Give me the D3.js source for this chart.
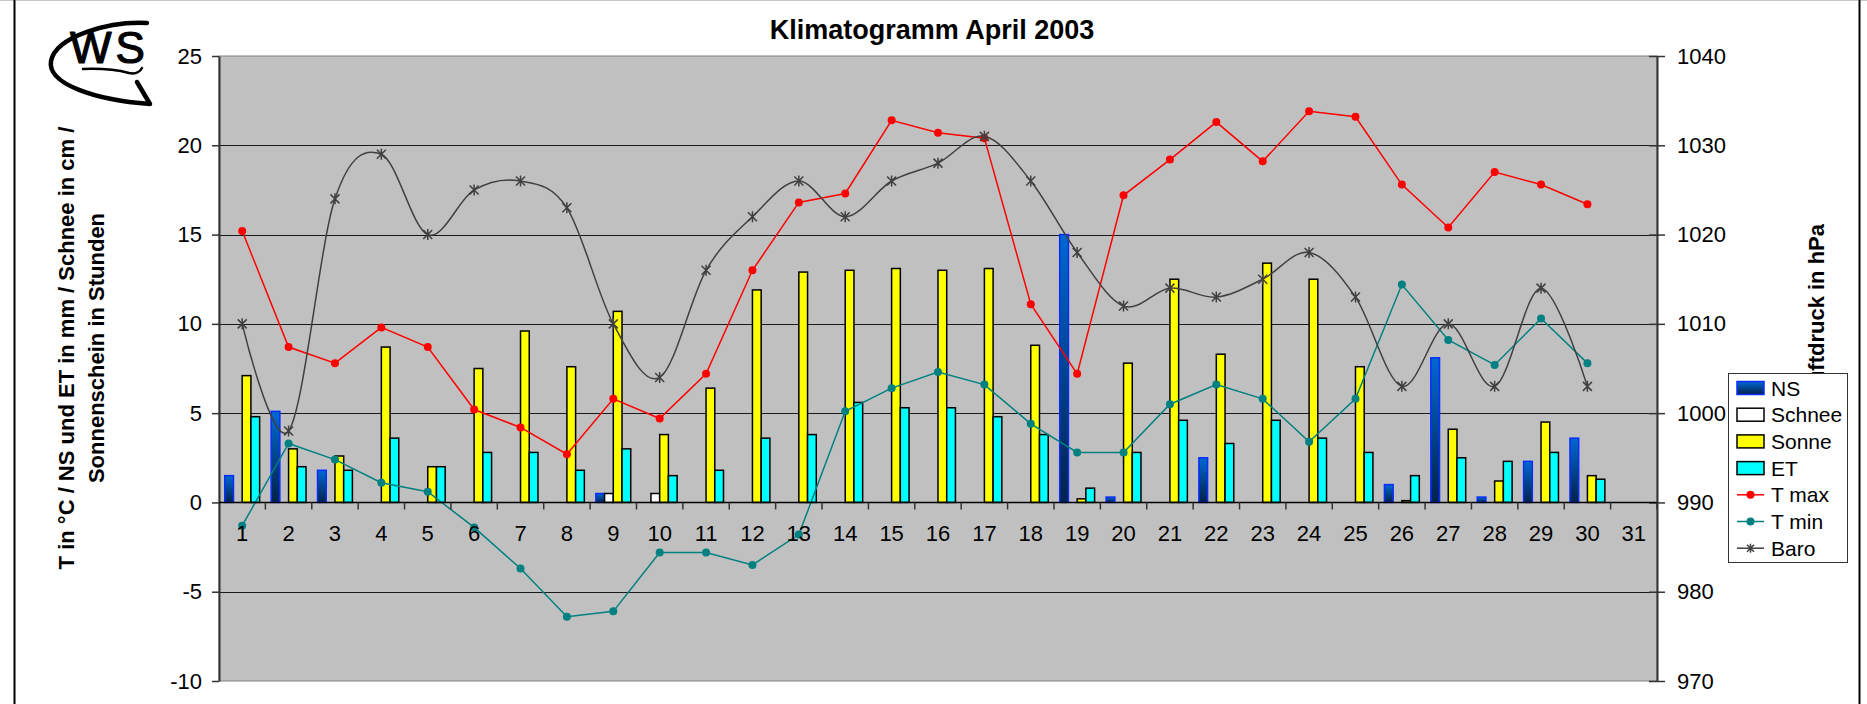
<!DOCTYPE html>
<html>
<head>
<meta charset="utf-8">
<title>Klimatogramm April 2003</title>
<script src="https://cdnjs.cloudflare.com/ajax/libs/d3/7.8.5/d3.min.js"></script>
<style>
	body { margin:0; background:#fff; }
	svg text { font-family:"Liberation Sans", Arial, sans-serif; fill:#000; }
	.tick text { font-size:22px; }
	.axis-title { font-size:22px; font-weight:bold; }
	.title { font-size:27px; font-weight:bold; }
	.legend text { font-size:21px; }
</style>
</head>
<body>
<svg id="chart" width="1867" height="704"></svg>
<script>
// categories (days of April, the axis runs to 31)
var days = [1, 2, 3, 4, 5, 6, 7, 8, 9, 10, 11, 12, 13, 14, 15, 16,
	17, 18, 19, 20, 21, 22, 23, 24, 25, 26, 27, 28, 29, 30, 31];

var barSeries = ["NS", "Schnee", "Sonne", "ET"];
var lineSeries = ["T max", "T min", "Baro"];

// Niederschlag in mm
var ns = [1.5, 5.1, 1.8, 0, 0, 0, 0, 0, 0.5, 0, 0, 0, 0, 0, 0,
	0, 0, 0, 15.0, 0.3, 0, 2.5, 0, 0, 0, 1.0, 8.1, 0.3, 2.3, 3.6];
// Schnee in cm
var schnee = [0, 0, 0, 0, 0, 0, 0, 0, 0.5, 0.5, 0, 0, 0, 0, 0,
	0, 0, 0, 0, 0, 0, 0, 0, 0, 0, 0, 0, 0, 0, 0];
// Sonnenschein in Stunden
var sonne = [7.1, 3.0, 2.6, 8.7, 2.0, 7.5, 9.6, 7.6, 10.7, 3.8, 6.4, 11.9, 12.9, 13.0, 13.1,
	13.0, 13.1, 8.8, 0.2, 7.8, 12.5, 8.3, 13.4, 12.5, 7.6, 0.1, 4.1, 1.2, 4.5, 1.5];
// Evapotranspiration in mm
var et = [4.8, 2.0, 1.8, 3.6, 2.0, 2.8, 2.8, 1.8, 3.0, 1.5, 1.8, 3.6, 3.8, 5.6, 5.3,
	5.3, 4.8, 3.8, 0.8, 2.8, 4.6, 3.3, 4.6, 3.6, 2.8, 1.5, 2.5, 2.3, 2.8, 1.3];

var tmax = [15.2, 8.7, 7.8, 9.8, 8.7, 5.2, 4.2, 2.7, 5.8, 4.7, 7.2, 13.0, 16.8, 17.3, 21.4,
	20.7, 20.4, 11.1, 7.2, 17.2, 19.2, 21.3, 19.1, 21.9, 21.6, 17.8, 15.4, 18.5, 17.8, 16.7];
var tmin = [-1.3, 3.3, 2.4, 1.1, 0.6, -1.4, -3.7, -6.4, -6.1, -2.8, -2.8, -3.5, -1.8, 5.1, 6.4,
	7.3, 6.6, 4.4, 2.8, 2.8, 5.5, 6.6, 5.8, 3.4, 5.8, 12.2, 9.1, 7.7, 10.3, 7.8];
// Luftdruck in hPa
var baro = [1010, 998, 1024, 1029, 1020, 1025, 1026, 1023, 1010, 1004, 1016, 1022, 1026, 1022, 1026,
	1028, 1031, 1026, 1018, 1012, 1014, 1013, 1015, 1018, 1013, 1003, 1010, 1003, 1014, 1003];

var leftTicks = [25, 20, 15, 10, 5, 0, -5, -10];
var rightTicks = [1040, 1030, 1020, 1010, 1000, 990, 980, 970];

var chart = {
	plot : { left : 219, right : 1657, top : 56, bottom : 681 },

	fills : {
		"NS" : "url(#nsGradient)",
		"Schnee" : "#ffffff",
		"Sonne" : "#ffff00",
		"ET" : "#00ffff"
	},

	lineColors : {
		"T max" : "#ff0000",
		"T min" : "#008080",
		"Baro" : "#404040"
	},

	init : function ()
	{
		this.svg = d3.select("svg#chart");
		var p = this.plot;

		this.x = d3.scaleBand()
		.domain(days)
		.range([p.left, p.right]);

		this.xInner = d3.scaleBand()
		.domain(barSeries)
		.range([0, this.x.bandwidth()])
		.paddingOuter(0.66);

		this.y = d3.scaleLinear()
		.domain([d3.min(leftTicks), d3.max(leftTicks)])
		.range([p.bottom, p.top]);

		this.yR = d3.scaleLinear()
		.domain([d3.min(rightTicks), d3.max(rightTicks)])
		.range([p.bottom, p.top]);

		this.renderDefs();
		this.renderFrame();
		this.renderLogo();
		this.renderPlotArea();
		this.renderBars();
		this.renderLines();
		this.renderAxes();
		this.renderTitles();
		this.renderLegend();
	},

	renderDefs : function ()
	{
		var grad = this.svg.append("defs")
		.append("linearGradient")
		.attr("id", "nsGradient")
		.attr("x1", 0).attr("y1", 0)
		.attr("x2", 0).attr("y2", 1);

		grad.append("stop").attr("offset", "0%").attr("stop-color", "#0068d2");
		grad.append("stop").attr("offset", "100%").attr("stop-color", "#00224a");
	},

	renderFrame : function ()
	{
		var frame = this.svg.append("g").classed("frame", true);

		frame.append("line")
		.attr("x1", 0).attr("x2", 1867)
		.attr("y1", 0.5).attr("y2", 0.5)
		.attr("stroke", "#c8c8c8");

		frame.append("line")
		.attr("x1", 14.5).attr("x2", 14.5)
		.attr("y1", 0).attr("y2", 704)
		.attr("stroke", "#000").attr("stroke-width", 2);

		frame.append("line")
		.attr("x1", 1859.5).attr("x2", 1859.5)
		.attr("y1", 0).attr("y2", 704)
		.attr("stroke", "#000").attr("stroke-width", 2);
	},

	renderLogo : function ()
	{
		var logo = this.svg.append("g")
		.classed("logo", true)
		.attr("fill", "none")
		.attr("stroke", "#000")
		.attr("stroke-linecap", "round")
		.attr("stroke-linejoin", "round");

		logo.append("path")
		.attr("d", "M147,23 C110,21 56,36 51,61 C47,84 95,100 150,104 L137,82")
		.attr("stroke-width", 4.5);

		logo.append("path")
		.attr("d", "M83,69 Q110,68 129,73 Q138,75 142,68")
		.attr("stroke-width", 2.5);

		// hand drawn letters, a thin stroke makes them heavier
		logo.append("text")
		.attr("x", 70)
		.attr("y", 63)
		.attr("fill", "#000")
		.attr("stroke-width", 1.2)
		.style("font-size", "44px")
		.style("letter-spacing", "4px")
		.text("WS");
	},

	renderPlotArea : function ()
	{
		var p = this.plot;
		var y = this.y;

		this.svg.append("rect")
		.attr("x", p.left)
		.attr("y", p.top)
		.attr("width", p.right - p.left)
		.attr("height", p.bottom - p.top)
		.attr("fill", "#c0c0c0")
		.attr("stroke", "#808080");

		this.svg.append("g")
		.classed("grid", true)
		.selectAll("line")
		.data(leftTicks.slice(1, -1))
		.enter().append("line")
		.attr("x1", p.left)
		.attr("x2", p.right)
		.attr("y1", function (d) { return Math.round(y(d)) + 0.5; })
		.attr("y2", function (d) { return Math.round(y(d)) + 0.5; })
		.attr("stroke", "#1a1a1a");
	},

	renderBars : function ()
	{
		var x = this.x, xi = this.xInner, y = this.y, fills = this.fills;
		var values = { "NS" : ns, "Schnee" : schnee, "Sonne" : sonne, "ET" : et };

		var rows = [];
		barSeries.forEach(function (s) {
			values[s].forEach(function (v, i) {
				if (v > 0) {
					rows.push({ series : s, day : days[i], value : v });
				}
			});
		});

		this.svg.append("g")
		.classed("bars", true)
		.selectAll("rect")
		.data(rows)
		.enter().append("rect")
		.attr("x", function (d) { return x(d.day) + xi(d.series); })
		.attr("y", function (d) { return y(d.value); })
		.attr("width", xi.bandwidth())
		.attr("height", function (d) { return y(0) - y(d.value); })
		.attr("fill", function (d) { return fills[d.series]; })
		.attr("stroke", function (d) { return d.series == "NS" ? "#0a2cff" : "#000"; })
		.attr("stroke-width", 1.5);
	},

	renderLines : function ()
	{
		var x = this.x, y = this.y, yR = this.yR;
		var half = x.bandwidth() / 2;
		var colors = this.lineColors;
		var group = this.svg.append("g").classed("lines", true);

		function cx(d, i) { return x(days[i]) + half; }

		var tempLine = d3.line()
		.x(cx)
		.y(function (d) { return y(d); });

		[["T max", tmax], ["T min", tmin]].forEach(function (s) {
			group.append("path")
			.attr("d", tempLine(s[1]))
			.attr("fill", "none")
			.attr("stroke", colors[s[0]])
			.attr("stroke-width", 1.5);

			group.append("g")
			.selectAll("circle")
			.data(s[1])
			.enter().append("circle")
			.attr("cx", cx)
			.attr("cy", function (d) { return y(d); })
			.attr("r", 4)
			.attr("fill", colors[s[0]]);
		});

		var baroLine = d3.line()
		.x(cx)
		.y(function (d) { return yR(d); })
		.curve(d3.curveCardinal.tension(0));

		group.append("path")
		.attr("d", baroLine(baro))
		.attr("fill", "none")
		.attr("stroke", colors["Baro"])
		.attr("stroke-width", 1.5);

		group.append("g")
		.selectAll("path")
		.data(baro)
		.enter().append("path")
		.attr("transform", function (d, i) {
			return "translate(" + cx(d, i) + "," + yR(d) + ")";
		})
		.attr("d", this.starPath(4.5))
		.attr("fill", "none")
		.attr("stroke", colors["Baro"])
		.attr("stroke-width", 1.5);
	},

	starPath : function (r)
	{
		return "M" + (-r) + "," + (-r) + "L" + r + "," + r +
			"M" + (-r) + "," + r + "L" + r + "," + (-r) +
			"M0," + (-r - 1) + "L0," + (r + 1);
	},

	renderAxes : function ()
	{
		var p = this.plot;
		var x = this.x, y = this.y;

		// plain hyphen for negatives, no thousands separator
		function plain(d) { return String(d); }

		// left axis
		var left = this.svg.append("g")
		.attr("transform", "translate(" + p.left + ",0)")
		.call(d3.axisLeft(y).tickValues(leftTicks).tickFormat(plain)
			.tickSize(7).tickSizeOuter(0).tickPadding(10));

		// right axis, ticks cross the axis line
		var right = this.svg.append("g")
		.attr("transform", "translate(" + p.right + ",0)")
		.call(d3.axisRight(this.yR).tickValues(rightTicks).tickFormat(plain)
			.tickSize(8).tickSizeOuter(0).tickPadding(12));

		right.selectAll(".tick line").attr("x1", -8);

		[left, right].forEach(function (g) {
			g.select(".domain").attr("stroke", "#333").attr("stroke-width", 2);
			g.selectAll(".tick line").attr("stroke", "#333").attr("stroke-width", 1.5);
		});

		// category axis on the zero line
		var zero = Math.round(y(0)) + 0.5;

		this.svg.append("line")
		.attr("x1", p.left)
		.attr("x2", p.right)
		.attr("y1", zero)
		.attr("y2", zero)
		.attr("stroke", "#000")
		.attr("stroke-width", 1.5);

		this.svg.append("g")
		.selectAll("line")
		.data(days)
		.enter().append("line")
		.attr("x1", function (d) { return x(d) + x.bandwidth(); })
		.attr("x2", function (d) { return x(d) + x.bandwidth(); })
		.attr("y1", zero)
		.attr("y2", zero + 7)
		.attr("stroke", "#333")
		.attr("stroke-width", 1.5);

		var bottom = this.svg.append("g")
		.attr("transform", "translate(0," + zero + ")")
		.call(d3.axisBottom(x).tickSize(0).tickPadding(23));

		bottom.select(".domain").remove();
	},

	renderTitles : function ()
	{
		this.svg.append("text")
		.classed("title", true)
		.attr("x", 932)
		.attr("y", 39)
		.attr("text-anchor", "middle")
		.text("Klimatogramm April 2003");

		var leftTitle = ["T in °C / NS und ET in mm / Schnee in cm /", "Sonnenschein in Stunden"];

		this.svg.append("g")
		.selectAll("text")
		.data(leftTitle)
		.enter().append("text")
		.classed("axis-title", true)
		.attr("transform", function (d, i) {
			return "translate(" + (66 + i * 30) + ",348) rotate(-90)";
		})
		.attr("text-anchor", "middle")
		.attr("dominant-baseline", "central")
		.text(function (d) { return d; });

		this.svg.append("text")
		.classed("axis-title", true)
		.attr("transform", "translate(1816,224) rotate(-90)")
		.attr("text-anchor", "end")
		.attr("dominant-baseline", "central")
		.text("Luftdruck in hPa");
	},

	renderLegend : function ()
	{
		var fills = this.fills, colors = this.lineColors;
		var names = barSeries.concat(lineSeries);
		var step = 26.7;

		var legend = this.svg.append("g")
		.classed("legend", true)
		.attr("transform", "translate(1728,373)");

		legend.append("rect")
		.attr("x", 0.5)
		.attr("y", 0.5)
		.attr("width", 119)
		.attr("height", 189)
		.attr("fill", "#fff")
		.attr("stroke", "#333");

		var item = legend.selectAll("g.item")
		.data(names)
		.enter().append("g")
		.classed("item", true)
		.attr("transform", function (d, i) {
			return "translate(0," + (15 + i * step) + ")";
		});

		item.filter(function (d) { return barSeries.indexOf(d) >= 0; })
		.append("rect")
		.attr("x", 9)
		.attr("y", -6.5)
		.attr("width", 27)
		.attr("height", 13)
		.attr("fill", function (d) { return fills[d]; })
		.attr("stroke", function (d) { return d == "NS" ? "#0a2cff" : "#000"; })
		.attr("stroke-width", 1.5);

		var lineItems = item.filter(function (d) { return lineSeries.indexOf(d) >= 0; });

		lineItems.append("line")
		.attr("x1", 9)
		.attr("x2", 36)
		.attr("stroke", function (d) { return colors[d]; })
		.attr("stroke-width", 1.5);

		lineItems.filter(function (d) { return d != "Baro"; })
		.append("circle")
		.attr("cx", 22.5)
		.attr("r", 4)
		.attr("fill", function (d) { return colors[d]; });

		lineItems.filter(function (d) { return d == "Baro"; })
		.append("path")
		.attr("transform", "translate(22.5,0)")
		.attr("d", this.starPath(3.5))
		.attr("fill", "none")
		.attr("stroke", colors["Baro"])
		.attr("stroke-width", 1.5);

		item.append("text")
		.attr("x", 43)
		.attr("dominant-baseline", "central")
		.text(function (d) { return d; });
	}
};

chart.init();
</script>
</body>
</html>
